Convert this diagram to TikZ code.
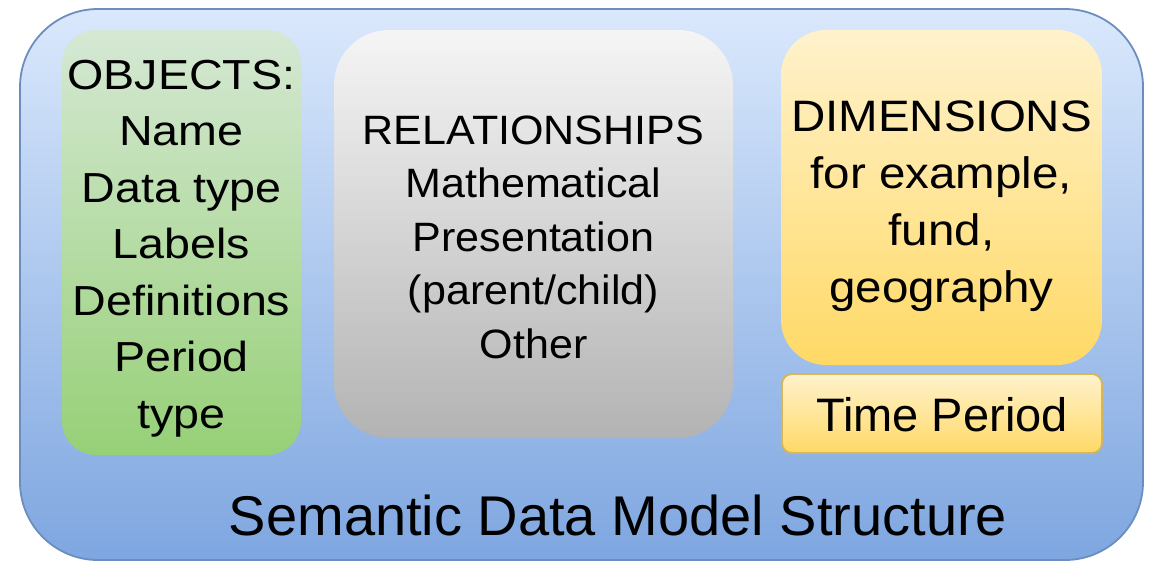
\documentclass[tikz,border=0pt]{standalone}
\usepackage{fontspec}
\setmainfont{Liberation Sans}
\definecolor{outerTop}{HTML}{DAE8FC}
\definecolor{outerBot}{HTML}{7EA6E0}
\definecolor{outerLine}{HTML}{6C8EBF}
\definecolor{greenTop}{HTML}{D5E8D4}
\definecolor{greenBot}{HTML}{97D077}
\definecolor{greyTop}{HTML}{F5F5F5}
\definecolor{greyBot}{HTML}{B3B3B3}
\definecolor{yellowTop}{HTML}{FFF2CC}
\definecolor{yellowBot}{HTML}{FFD966}
\definecolor{yellowLine}{HTML}{D6B656}
\tikzset{
  panel/.style={rectangle, inner sep=0pt, align=center, text=black},
  txt/.style 2 args={font=\fontsize{#1}{#2}\selectfont},
}
\begin{document}
\begin{tikzpicture}[x=1pt, y=-1pt]
\useasboundingbox (0,0) rectangle (1149,565);

% enclosing model box
\node[panel, minimum width=1123pt, minimum height=551pt,
      rounded corners=78pt, top color=outerTop, bottom color=outerBot,
      draw=outerLine, line width=1.8pt] (model) at (581.5,284.5) {};

% objects
\node[panel, minimum width=239pt, minimum height=425pt, rounded corners=34pt,
      top color=greenTop, bottom color=greenBot] (objbox) at (181.5,242.5) {};
\node[panel, txt={42}{56.5}, xscale=1.11] (objects) at ([yshift=-6pt]objbox.center)
  {OBJECTS:\\Name\\Data type\\Labels\\Definitions\\Period\\type};

% relationships
\node[panel, minimum width=399pt, minimum height=408pt, rounded corners=55pt,
      top color=greyTop, bottom color=greyBot] (relbox) at (533.5,234) {};
\node[panel, txt={41}{53.5}, xscale=1.05] (relationships) at ([yshift=-3pt]relbox.center)
  {RELATIONSHIPS\\Mathematical\\Presentation\\(parent/child)\\Other};

% dimensions
\node[panel, minimum width=321pt, minimum height=335pt, rounded corners=45pt,
      top color=yellowTop, bottom color=yellowBot] (dimbox) at (941.5,197.5) {};
\node[panel, txt={44}{57}, xscale=1.08] (dimensions) at ([yshift=-9pt]dimbox.center)
  {DIMENSIONS\\for example,\\fund,\\geography};

% time period
\node[panel, minimum width=320pt, minimum height=79pt, rounded corners=10pt,
      top color=yellowTop, bottom color=yellowBot, draw=yellowLine,
      line width=1.8pt] (timebox) at (942,413.5) {};
\node[panel, txt={47}{56}] (time) at ([yshift=-1pt]timebox.center) {Time Period};

% caption of the model
\node[panel, txt={56}{60}] (title) at (618,515) {Semantic Data Model Structure};
\end{tikzpicture}
\end{document}
